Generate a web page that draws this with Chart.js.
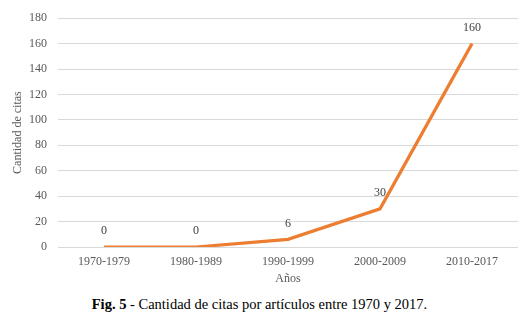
<!DOCTYPE html>
<html>
<head>
<meta charset="utf-8">
<script src="https://cdn.jsdelivr.net/npm/chart.js@4"></script>
<style>
  html, body { margin: 0; padding: 0; background: #fff; }
  #wrap { position: relative; width: 519px; height: 329px; }
  #chartBox { position: absolute; left: 0; top: 0; width: 519px; height: 290px; }
  #caption { position: absolute; left: 0; top: 296px; width: 519px; text-align: center;
    font-family: "Liberation Serif", "Times New Roman", serif; font-size: 14.5px; color: #000; }
</style>
</head>
<body>
<div id="wrap">
  <div id="chartBox"><canvas id="c"></canvas></div>
  <div id="caption"><b>Fig. 5</b> - Cantidad de citas por artículos entre 1970 y 2017.</div>
</div>
<script>
const categories = ["1970-1979", "1980-1989", "1990-1999", "2000-2009", "2010-2017"];
const citas = [0, 0, 6, 30, 160];
const yMin = 0, yMax = 180, yStep = 20;
const xTitle = "Años";
const yTitle = "Cantidad de citas";

const FONT = "'Liberation Serif', 'Times New Roman', serif";

const labelPlugin = {
  id: 'pointLabels',
  afterDatasetsDraw(chart) {
    const ctx = chart.ctx;
    const meta = chart.getDatasetMeta(0);
    ctx.save();
    ctx.font = "12px " + FONT;
    ctx.fillStyle = "#404040";
    ctx.textAlign = "center";
    ctx.textBaseline = "middle";
    meta.data.forEach((pt, i) => {
      const p = pt.getProps(['x', 'y'], true);
      ctx.fillText(String(chart.data.datasets[0].data[i]), p.x, p.y - 16);
    });
    ctx.restore();
  }
};

new Chart(document.getElementById('c'), {
  type: 'line',
  data: {
    labels: categories,
    datasets: [{
      data: citas,
      borderColor: '#ED7D31',
      backgroundColor: '#ED7D31',
      borderWidth: 3.2,
      pointRadius: 0,
      tension: 0,
      fill: false
    }]
  },
  options: {
    responsive: true,
    maintainAspectRatio: false,
    animation: false,
    layout: { padding: { top: 15, right: 1, left: 0, bottom: 0 } },
    plugins: { legend: { display: false }, tooltip: { enabled: false } },
    scales: {
      x: {
        grid: { display: false, drawTicks: false },
        border: { display: false },
        offset: true,
        ticks: { color: '#595959', font: { family: FONT, size: 12 }, padding: 8, maxRotation: 0 },
        title: { display: true, text: xTitle, color: '#595959', font: { family: FONT, size: 12 }, padding: { top: 4, bottom: 4 } },
        afterFit(scale) { scale.height = 43; }
      },
      y: {
        min: yMin, max: yMax,
        grid: { color: '#D9D9D9', drawTicks: false, lineWidth: 1 },
        border: { display: false },
        ticks: { stepSize: yStep, color: '#595959', font: { family: FONT, size: 12 }, padding: 11 },
        title: { display: true, text: yTitle, color: '#595959', font: { family: FONT, size: 12 }, padding: { top: 11, bottom: 4 } },
        afterFit(scale) { scale.width = 58; }
      }
    }
  },
  plugins: [labelPlugin]
});
</script>
</body>
</html>
